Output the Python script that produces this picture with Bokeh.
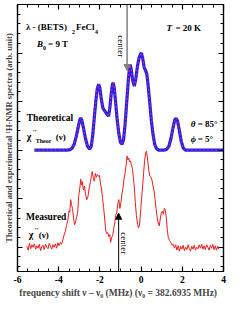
import math
from bokeh.plotting import figure
from bokeh.models import (Label, Arrow, NormalHead, LinearAxis, FixedTicker, Range1d,
                          CustomLabelingPolicy)
from bokeh.embed import file_html
from bokeh.resources import INLINE

# ---------------- data ----------------
theor_x = [-5.18, -4.0, -3.6, -3.45, -3.35, -3.25, -3.15, -3.05, -2.98, -2.93, -2.88, -2.80,
           -2.70, -2.60, -2.50, -2.42, -2.35, -2.27, -2.20, -2.13, -2.06, -2.00, -1.93, -1.85,
           -1.75, -1.65, -1.58, -1.52, -1.45, -1.40, -1.36, -1.31, -1.24, -1.16, -1.08, -1.00,
           -0.92, -0.85, -0.78, -0.70, -0.62, -0.56, -0.53, -0.48, -0.40, -0.33, -0.26, -0.18,
           -0.10, -0.03, 0.02, 0.08, 0.15, 0.22, 0.28, 0.35, 0.42, 0.50, 0.58, 0.66, 0.75, 0.85,
           1.10, 1.25, 1.35, 1.45, 1.55, 1.63, 1.70, 1.77, 1.85, 1.95, 2.05, 2.15, 4.0]
theor_y = [2.00, 2.00, 2.00, 2.01, 2.04, 2.12, 2.28, 2.48, 2.62, 2.66, 2.62, 2.46,
           2.24, 2.08, 2.02, 2.08, 2.30, 2.68, 3.00, 3.26, 3.36, 3.28, 3.04, 2.86,
           2.80, 2.74, 2.70, 2.86, 3.16, 3.34, 3.39, 3.30, 3.00, 2.62, 2.34, 2.16,
           2.12, 2.22, 2.52, 2.98, 3.44, 3.72, 3.76, 3.66, 3.42, 3.32, 3.46, 3.72,
           3.90, 3.98, 4.00, 3.88, 3.70, 3.64, 3.56, 3.30, 2.98, 2.60, 2.32, 2.12, 2.03, 2.00,
           2.00, 2.02, 2.08, 2.24, 2.46, 2.62, 2.66, 2.60, 2.42, 2.18, 2.04, 2.00, 2.00]

meas_x = [-5.55, -5.48, -5.42, -5.36, -5.30, -5.24, -5.18, -5.12, -5.06, -5.00, -4.94, -4.88,
          -4.82, -4.76, -4.70, -4.64, -4.58, -4.52, -4.46, -4.40, -4.34, -4.28, -4.22, -4.16,
          -4.10, -4.04, -3.98, -3.92, -3.86,
          -3.80, -3.74, -3.68, -3.62, -3.56, -3.50, -3.46, -3.42, -3.38, -3.33, -3.28, -3.23,
          -3.18, -3.13, -3.08, -3.03, -2.98, -2.93, -2.89, -2.85, -2.80, -2.75, -2.70, -2.64,
          -2.58, -2.52, -2.46, -2.41, -2.37, -2.32, -2.27, -2.22, -2.17, -2.12, -2.07, -2.02,
          -1.97, -1.92, -1.87, -1.82, -1.77, -1.72, -1.67, -1.62, -1.57, -1.52, -1.48, -1.43,
          -1.38, -1.33, -1.28, -1.23, -1.18, -1.13, -1.08, -1.03, -0.98, -0.93, -0.88, -0.83,
          -0.78, -0.73, -0.68, -0.64, -0.60, -0.56, -0.52, -0.47, -0.42, -0.37, -0.33, -0.28,
          -0.23, -0.18, -0.13, -0.08, -0.03, 0.02, 0.07, 0.12, 0.17, 0.22, 0.26, 0.30, 0.34,
          0.38, 0.43, 0.48, 0.53, 0.58, 0.63, 0.68, 0.73, 0.78, 0.83, 0.88, 0.93, 0.98, 1.03,
          1.08, 1.13, 1.18, 1.22, 1.27, 1.32, 1.38, 1.44, 1.50,
          1.56, 1.62, 1.68, 1.74, 1.80, 1.86, 1.92, 1.98, 2.04, 2.10, 2.16, 2.22, 2.28, 2.34,
          2.40, 2.46, 2.52, 2.58, 2.64, 2.70, 2.76, 2.82, 2.88, 2.94, 3.00, 3.06, 3.12, 3.18,
          3.24, 3.30, 3.36, 3.42, 3.48, 3.54, 3.60, 3.66, 3.72, 3.77]
meas_y = [0.02, -0.06, 0.08, -0.03, 0.05, 0.00, 0.07, -0.04, 0.03, -0.02, 0.06, -0.07,
          0.01, 0.04, -0.05, 0.06, 0.00, -0.03, 0.08, 0.02, -0.04, 0.05, 0.00, 0.07,
          -0.02, 0.09, 0.03, 0.10, 0.06,
          0.15, 0.25, 0.32, 0.45, 0.55, 0.75, 0.72, 0.98, 0.88, 0.80, 0.60, 0.46,
          0.52, 0.62, 0.70, 1.05, 1.20, 1.40, 1.28, 1.35, 1.18, 1.26, 1.10, 0.98,
          1.04, 1.22, 1.35, 1.48, 1.56, 1.42, 1.36, 1.52, 1.44, 1.50, 1.46, 1.48,
          1.30, 1.20, 1.00, 0.82, 0.60, 0.35, 0.28, 0.30, 0.22, 0.26, 0.10, 0.20,
          0.24, 0.38, 0.50, 0.66, 0.72, 0.90, 0.98, 0.80, 0.92, 1.10, 1.22, 1.40,
          1.52, 1.68, 1.88, 1.80, 1.84, 1.76, 1.78, 1.70, 1.62, 1.42, 1.24, 0.92,
          0.66, 0.50, 0.40, 0.44, 0.70, 0.98, 1.24, 1.52, 1.78, 1.94, 1.98, 1.86, 1.72,
          1.56, 1.46, 1.44, 1.38, 1.26, 1.16, 0.98, 0.78, 0.62, 0.50, 0.44, 0.58, 0.70, 0.74,
          0.68, 0.80, 0.76, 0.62, 0.36, 0.20, 0.14, 0.10, 0.04,
          0.06, -0.02, 0.05, -0.06, 0.03, -0.08, 0.02, -0.04, 0.04, -0.07, 0.00, -0.05, 0.05, -0.03,
          -0.08, 0.02, -0.04, 0.04, -0.06, 0.00, -0.03, 0.05, -0.02, 0.06, -0.04, 0.03, -0.05, 0.05,
          0.00, -0.06, 0.04, -0.02, 0.06, -0.05, 0.03, -0.06, 0.02, -0.04]

x_ticks = [-6, -4, -2, 0, 2, 4]
x_tick_labels = ["-6", "-4", "-2", "0", "2", "4"]
y_ticks = [0, 1, 2, 3, 4, 5]

center_top_x = -0.68
center_top_tip = 3.64
center_bottom_x = -1.09
center_bottom_tip = 0.70

SERIF = "Liberation Serif"

# ---------------- figure ----------------
p = figure(width=227, height=300, x_range=Range1d(-6, 4), y_range=Range1d(-0.5, 5.0),
           output_backend="svg", toolbar_location=None,
           min_border_left=0, min_border_right=3, min_border_top=1, min_border_bottom=0)
p.xgrid.visible = False
p.ygrid.visible = False
p.outline_line_color = "black"
p.outline_line_width = 1.2
p.background_fill_color = "white"

x_minor = [-6 + 0.5 * i for i in range(21)]
y_minor = [-0.4 + 0.2 * i for i in range(28)]


def style_axis(ax):
    ax.major_tick_in = 5
    ax.major_tick_out = 0
    ax.minor_tick_in = 3
    ax.minor_tick_out = 0
    ax.axis_line_color = "black"
    ax.axis_line_width = 1.2
    ax.major_tick_line_width = 1.2
    ax.minor_tick_line_width = 1


def hide_labels(ax):
    ax.major_label_policy = CustomLabelingPolicy(code="return []")
    ax.major_label_text_font_size = "1px"
    ax.major_label_standoff = 0


xa = p.xaxis[0]
xa.ticker = FixedTicker(ticks=x_ticks, minor_ticks=x_minor)
xa.major_label_overrides = {t: l for t, l in zip(x_ticks, x_tick_labels)}
xa.major_label_text_font = SERIF
xa.major_label_text_font_style = "bold"
xa.major_label_text_font_size = "9.5px"
xa.major_label_text_color = "black"
xa.major_label_standoff = 4
xa.axis_label = "frequency shift \u03bd \u2013 \u03bd\u2080  (MHz)  (\u03bd\u2080 = 382.6935 MHz)"
xa.axis_label_text_font = SERIF
xa.axis_label_text_font_style = "bold"
xa.axis_label_text_font_size = "9.5px"
xa.axis_label_standoff = 2
style_axis(xa)

ya = p.yaxis[0]
ya.ticker = FixedTicker(ticks=y_ticks, minor_ticks=y_minor)
hide_labels(ya)
ya.axis_label = "Theoretical and experimental \u00b9H-NMR spectra (arb. unit)"
ya.axis_label_text_font = SERIF
ya.axis_label_text_font_style = "bold"
ya.axis_label_text_font_size = "8.5px"
ya.axis_label_standoff = 0
style_axis(ya)

top = LinearAxis(ticker=FixedTicker(ticks=x_ticks, minor_ticks=x_minor))
hide_labels(top)
style_axis(top)
p.add_layout(top, "above")
right = LinearAxis(ticker=FixedTicker(ticks=y_ticks, minor_ticks=y_minor))
hide_labels(right)
style_axis(right)
p.add_layout(right, "right")

# ---------------- curves ----------------
p.line(theor_x, theor_y, color="#1f1fff", line_width=3.2)
p.line(theor_x, theor_y, color="#ff2a2a", line_width=1, line_dash="2 2")
p.line(meas_x, meas_y, color="#ee1c1c", line_width=1)

# ---------------- arrows ----------------
p.add_layout(Arrow(end=NormalHead(size=6, line_color="#808080", fill_color="#808080"),
                   x_start=center_top_x, y_start=5.0, x_end=center_top_x, y_end=center_top_tip,
                   line_color="#808080", line_width=1.5))
p.add_layout(Arrow(end=NormalHead(size=6, line_color="black", fill_color="black"),
                   x_start=center_bottom_x, y_start=-0.5, x_end=center_bottom_x, y_end=center_bottom_tip,
                   line_color="black", line_width=1))


def lab(x, y, text, size="9px", style="bold", dx=0, dy=0, angle=0.0, align="left"):
    p.add_layout(Label(x=x, y=y, text=text, x_offset=dx, y_offset=dy, angle=angle,
                       text_font=SERIF, text_font_size=size, text_font_style=style,
                       text_baseline="middle", text_align=align, text_color="black"))


lab(-1.0, 4.14, "center", size="9px", style="normal", angle=-math.pi / 2, align="center")
lab(-0.82, 0.08, "center", size="9px", style="normal", angle=-math.pi / 2, align="center")

# annotations
lab(-5.59, 4.54, "\u03bb - (BETS)")
lab(-5.59, 4.54, "2", size="6px", dx=46, dy=-5)
lab(-5.59, 4.54, "FeCl", dx=50)
lab(-5.59, 4.54, "4", size="6px", dx=69, dy=-5)

lab(-5.05, 4.18, "B", style="bold italic")
lab(-5.05, 4.18, "0", size="6px", dx=6, dy=-4)
lab(-5.05, 4.18, "= 9 T", dx=11)

lab(1.23, 4.52, "T", style="bold italic")
lab(1.23, 4.52, "= 20 K", dx=9)

lab(-5.55, 2.66, "Theoretical", size="9.5px")
lab(-5.55, 2.28, "\u03c7", size="10px")
lab(-5.55, 2.28, "''", size="7px", dx=6, dy=5)
lab(-5.55, 2.28, "Theor", size="6px", dx=9, dy=-4)
lab(-5.55, 2.28, "(\u03bd)", dx=29)

lab(2.41, 2.54, "\u03b8", style="bold italic")
lab(2.41, 2.54, "= 85\u00b0", dx=7)
lab(2.41, 2.22, "\u03d5", style="bold italic")
lab(2.41, 2.22, "= 5\u00b0", dx=7)

lab(-5.59, 0.62, "Measured", size="9.5px")
lab(-5.45, 0.26, "\u03c7", size="10px")
lab(-5.45, 0.26, "''", size="7px", dx=6, dy=5)
lab(-5.45, 0.26, "(\u03bd)", dx=10)

open("out.html", "w").write(file_html(p, INLINE))
